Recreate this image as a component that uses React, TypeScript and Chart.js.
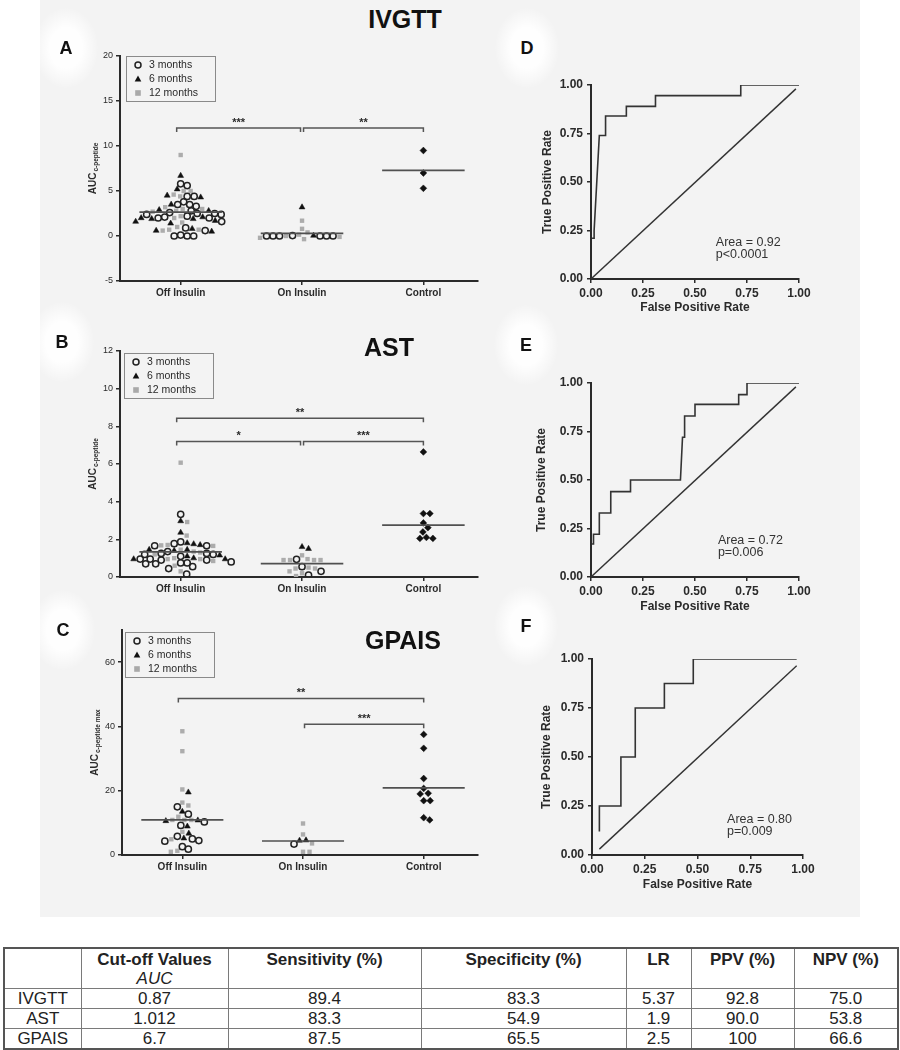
import React, { useEffect, useRef } from 'react';
import { Chart, registerables } from 'chart.js';
Chart.register(...registerables);

const FONT = "'Liberation Sans', Arial, Helvetica, sans-serif";
const NARROW = "'Liberation Sans Narrow', 'Arial Narrow', 'Liberation Sans', Arial, sans-serif";
const INK = '#2a2a2a';

// ---------- categories & series ----------
const categories = ['Off Insulin', 'On Insulin', 'Control'];
const seriesLabels = ['3 months', '6 months', '12 months'];

// ---------- Panel A: IVGTT ----------
const ivgttOff3 = [5.6, 5.8, 4.4, 4.4, 3.5, 3.3, 3.5, 3.8, 2.5, 2.4, 2.4, 2.5, 2.6, 2.8, 2.2, 2.0, 2.1, 2.0, 1.6, 0.9, 0.6, 0.0, 0.0, 0.0, 0.1];
const ivgttOff6 = [6.7, 5.2, 4.3, 4.5, 3.5, 2.9, 2.8, 1.9, 2.1, 1.9, 2.0, 1.7, 1.6, 1.4, 0.5, 0.8, 0.6];
const ivgttOff12 = [9.0, 5.0, 5.0, 4.6, 4.4, 3.2, 2.7, 2.8, 3.0, 3.0, 2.0, 2.2, 1.5, 1.0, 0.7, 0.7, 0.6];
const ivgttOn3 = [0, 0, 0, 0, 0, 0, 0.05];
const ivgttOn6 = [3.2, 0.05];
const ivgttOn12 = [1.7, 0.8, 0.4, 0.15, 0.0, -0.2, -0.1, -0.35];
const ivgttControl = [9.5, 7.0, 5.3];
const ivgttMedians = [2.65, 0.3, 7.3];
const ivgttTicks = { min: -5, max: 20, step: 5 };
const ivgttBrackets = [
  { from: 0, to: 1, level: 12, label: '***' },
  { from: 1, to: 2, level: 12, label: '**' },
];

// ---------- Panel B: AST ----------
const astOff3 = [3.33, 1.86, 1.77, 1.66, 1.66, 1.25, 1.2, 1.1, 1.2, 1.25, 0.95, 0.9, 0.9, 0.95, 0.75, 0.7, 0.7, 0.8, 0.75, 0.55, 0.45, 0.15, 1.35];
const astOff6 = [2.97, 2.36, 1.75, 1.8, 1.7, 1.45, 1.45, 1.15, 1.0, 0.95, 0.95, 1.4, 1.1];
const astOff12 = [6.07, 2.92, 2.2, 1.7, 1.68, 1.65, 1.2, 1.0, 0.95, 0.95, 1.35, 1.3, 0.6, 0.3, 0.85, 1.45];
const astOn3 = [0.94, 0.55, 0.3, 0.1];
const astOn6 = [1.6, 1.5];
const astOn12 = [1.15, 0.9, 0.9, 0.9, 0.9, 0.95, 0.45, 0.45, 0.5, 0.3, 0.2, 0.05];
const astControl = [6.64, 3.37, 3.37, 2.87, 2.62, 2.39, 2.05, 2.05, 2.1];
const astMedians = [1.33, 0.71, 2.75];
const astTicks = { min: 0, max: 12, step: 2 };
const astBrackets = [
  { from: 0, to: 2, level: 8.43, label: '**' },
  { from: 0, to: 1, level: 7.2, label: '*' },
  { from: 1, to: 2, level: 7.2, label: '***' },
];

// ---------- Panel C: GPAIS ----------
const gpaisOff3 = [15.0, 12.7, 10.3, 9.2, 5.8, 5.0, 4.5, 4.3, 2.6, 1.8];
const gpaisOff6 = [19.5, 13.5, 10.6, 8.9, 6.7, 5.2, 10.8];
const gpaisOff12 = [38.5, 32.3, 20.4, 16.3, 15.4, 11.9, 10.9, 10.9, 10.9, 7.2, 4.9, 1.3, 1.0];
const gpaisOn3 = [3.4];
const gpaisOn6 = [4.6, 4.5];
const gpaisOn12 = [9.8, 6.4, 3.6, 1.0, 1.0];
const gpaisControl = [37.5, 33.2, 23.8, 20.7, 19.2, 19.0, 16.9, 16.9, 10.9, 11.6];
const gpaisMedians = [10.9, 4.35, 20.9];
const gpaisTicks = { min: 0, max: 70, step: 20 };
const gpaisBrackets = [
  { from: 0, to: 2, level: 48.7, label: '**' },
  { from: 1, to: 2, level: 40.7, label: '***' },
];

// ---------- ROC curves ----------
const rocTicks = [0, 0.25, 0.5, 0.75, 1];
const rocD_fpr = [0.005, 0.015, 0.015, 0.04, 0.07, 0.07, 0.17, 0.17, 0.31, 0.31, 0.72, 0.72, 1.0];
const rocD_tpr = [0.21, 0.21, 0.25, 0.74, 0.74, 0.84, 0.84, 0.89, 0.89, 0.945, 0.945, 1.0, 1.0];
const rocD_diagFpr = [0, 0.985];
const rocD_diagTpr = [0, 0.98];
const rocD_text = ['Area = 0.92', 'p<0.0001'];

const rocE_fpr = [0.005, 0.012, 0.012, 0.04, 0.04, 0.095, 0.095, 0.19, 0.19, 0.43, 0.44, 0.45, 0.45, 0.5, 0.5, 0.71, 0.71, 0.75, 0.75, 1.0];
const rocE_tpr = [0.17, 0.17, 0.22, 0.22, 0.33, 0.33, 0.44, 0.44, 0.5, 0.5, 0.72, 0.72, 0.83, 0.83, 0.89, 0.89, 0.94, 0.94, 1.0, 1.0];
const rocE_diagFpr = [0, 0.985];
const rocE_diagTpr = [0, 0.98];
const rocE_text = ['Area = 0.72', 'p=0.006'];

const rocF_fpr = [0.035, 0.035, 0.137, 0.137, 0.205, 0.205, 0.343, 0.343, 0.48, 0.48, 0.97];
const rocF_tpr = [0.12, 0.25, 0.25, 0.5, 0.5, 0.75, 0.75, 0.875, 0.875, 1.0, 1.0];
const rocF_diagFpr = [0.035, 0.97];
const rocF_diagTpr = [0.03, 0.965];
const rocF_text = ['Area = 0.80', 'p=0.009'];

// ---------- Table ----------
const tableHeaders = ['', 'Cut-off Values', 'Sensitivity (%)', 'Specificity (%)', 'LR', 'PPV (%)', 'NPV (%)'];
const tableSubHeader = 'AUC';
const tableRowLabels = ['IVGTT', 'AST', 'GPAIS'];
const cutoffValues = ['0.87', '1.012', '6.7'];
const sensitivity = ['89.4', '83.3', '87.5'];
const specificity = ['83.3', '54.9', '65.5'];
const likelihoodRatio = ['5.37', '1.9', '2.5'];
const ppv = ['92.8', '90.0', '100'];
const npv = ['75.0', '53.8', '66.6'];

// ---------- plugins ----------
const yLabelPlugin = {
  id: 'ylab',
  afterDraw(chart: any, _a: any, opts: any) {
    if (!opts || !opts.main) return;
    const { ctx, chartArea } = chart;
    ctx.save();
    ctx.translate(chartArea.left + opts.dx, (chartArea.top + chartArea.bottom) / 2);
    ctx.rotate(-Math.PI / 2);
    ctx.fillStyle = INK;
    ctx.textBaseline = 'middle';
    ctx.textAlign = 'left';
    const mainFont = `bold ${opts.size}px ${FONT}`;
    const subFont = `bold ${opts.subSize}px ${FONT}`;
    ctx.font = mainFont;
    const w1 = ctx.measureText(opts.main).width;
    ctx.font = subFont;
    const w2 = ctx.measureText(opts.sub).width;
    const start = -(w1 + w2 + 1) / 2;
    ctx.font = mainFont;
    ctx.fillText(opts.main, start, 0);
    ctx.font = subFont;
    ctx.fillText(opts.sub, start + w1 + 1, 3);
    ctx.restore();
  },
};

const boxLegendPlugin = {
  id: 'boxlegend',
  afterDraw(chart: any, _a: any, opts: any) {
    if (!opts || !opts.items) return;
    const { ctx, chartArea } = chart;
    const x0 = chartArea.left + opts.dx;
    const y0 = chartArea.top + opts.dy;
    const w = 89, h = 45;
    ctx.save();
    ctx.strokeStyle = '#8a8a8a';
    ctx.lineWidth = 1;
    ctx.strokeRect(x0 + 0.5, y0 + 0.5, w, h);
    ctx.font = `10.5px ${FONT}`;
    ctx.textBaseline = 'middle';
    ctx.fillStyle = INK;
    opts.items.forEach((it: any, i: number) => {
      const cy = y0 + 9 + i * 14;
      const cx = x0 + 12;
      if (it.shape === 'circle') {
        ctx.beginPath();
        ctx.arc(cx, cy, 3, 0, Math.PI * 2);
        ctx.lineWidth = 1.5;
        ctx.strokeStyle = '#222';
        ctx.stroke();
      } else if (it.shape === 'triangle') {
        ctx.beginPath();
        ctx.moveTo(cx, cy - 3.5);
        ctx.lineTo(cx - 3.3, cy + 2.5);
        ctx.lineTo(cx + 3.3, cy + 2.5);
        ctx.closePath();
        ctx.fillStyle = '#111';
        ctx.fill();
      } else {
        ctx.fillStyle = '#a9a9a9';
        ctx.fillRect(cx - 2.8, cy - 2.8, 5.6, 5.6);
      }
      ctx.fillStyle = INK;
      ctx.fillText(it.label, x0 + 23, cy + 0.5);
    });
    ctx.restore();
  },
};

const bracketPlugin = {
  id: 'brackets',
  afterDatasetsDraw(chart: any, _a: any, opts: any) {
    if (!opts || !opts.list) return;
    const { ctx, scales } = chart;
    const xs = scales.x, ys = scales.y;
    ctx.save();
    ctx.strokeStyle = '#555';
    ctx.lineWidth = 1.5;
    ctx.fillStyle = INK;
    ctx.font = `bold 11px ${FONT}`;
    ctx.textAlign = 'center';
    ctx.textBaseline = 'alphabetic';
    opts.list.forEach((b: any) => {
      let x1 = xs.getPixelForValue(b.from) - (b.from === 0 ? 4 : 0);
      let x2 = xs.getPixelForValue(b.to);
      if (b.from === 1) x1 += 1.5;
      if (b.to === 1) x2 -= 1.5;
      const y = ys.getPixelForValue(b.level);
      ctx.beginPath();
      ctx.moveTo(x1, y + 4);
      ctx.lineTo(x1, y);
      ctx.lineTo(x2, y);
      ctx.lineTo(x2, y + 4);
      ctx.stroke();
      ctx.fillText(b.label, (x1 + x2) / 2, y - 2.5);
    });
    ctx.restore();
  },
};

const rocTextPlugin = {
  id: 'roctext',
  afterDraw(chart: any, _a: any, opts: any) {
    if (!opts || !opts.lines) return;
    const { ctx, scales } = chart;
    const x = scales.x.getPixelForValue(opts.at[0]);
    const y = scales.y.getPixelForValue(opts.at[1]);
    ctx.save();
    ctx.fillStyle = '#333';
    ctx.font = `12.5px ${FONT}`;
    ctx.textAlign = 'left';
    ctx.textBaseline = 'middle';
    opts.lines.forEach((t: string, i: number) => ctx.fillText(t, x, y + i * 12));
    ctx.restore();
  },
};

// ---------- builders ----------
const axisGrid = { display: true, drawOnChartArea: false, drawTicks: true, tickLength: 4, color: INK, lineWidth: 1.5 };
const axisBorder = { display: true, color: INK, width: 2 };

function pts(values: number[], cat: number) {
  return values.map((v) => ({ x: cat, y: v, cat }));
}

function scatterConfig(p: any) {
  const datasets: any[] = [
    {
      label: seriesLabels[2], swarm: true, order: 3,
      data: [...pts(p.off12, 0), ...pts(p.on12, 1)],
      pointStyle: 'rect', pointRadius: 3.1, borderWidth: 0,
      backgroundColor: '#acacac', borderColor: '#acacac',
    },
    {
      label: seriesLabels[0], swarm: true, order: 2,
      data: [...pts(p.off3, 0), ...pts(p.on3, 1)],
      pointStyle: 'circle', pointRadius: 3.1, borderWidth: 1.5,
      backgroundColor: 'rgba(0,0,0,0)', borderColor: '#222',
    },
    {
      label: seriesLabels[1], swarm: true, order: 2,
      data: [...pts(p.off6, 0), ...pts(p.on6, 1)],
      pointStyle: 'triangle', pointRadius: 3.4, borderWidth: 0.5,
      backgroundColor: '#111', borderColor: '#111',
    },
    {
      label: categories[2], swarm: true, order: 2,
      data: pts(p.control, 2),
      pointStyle: 'rectRot', pointRadius: 3.4, borderWidth: 0.5,
      backgroundColor: '#111', borderColor: '#111',
    },
  ];
  p.medians.forEach((m: number, i: number) => {
    datasets.push({
      type: 'line', label: 'median ' + categories[i], order: 1,
      data: [{ x: i - 0.34, y: m }, { x: i + 0.34, y: m }],
      borderColor: '#505050', borderWidth: 1.7, pointRadius: 0, fill: false,
    });
  });
  return {
    type: 'scatter',
    data: { datasets },
    options: {
      animation: false, responsive: false, maintainAspectRatio: false,
      layout: { padding: p.padding },
      events: [],
      plugins: {
        legend: { display: false }, tooltip: { enabled: false },
        ylab: { main: 'AUC', sub: p.ySub, size: 10, subSize: 6.5, dx: -27 },
        boxlegend: {
          dx: p.legendDx, dy: p.legendDy,
          items: [
            { label: seriesLabels[0], shape: 'circle' },
            { label: seriesLabels[1], shape: 'triangle' },
            { label: seriesLabels[2], shape: 'square' },
          ],
        },
        brackets: { list: p.brackets },
      },
      scales: {
        x: {
          type: 'linear', min: -0.5, max: 2.45,
          afterBuildTicks: (s: any) => { s.ticks = [0, 1, 2].map((v) => ({ value: v })); },
          afterFit: (s: any) => { s.height = p.xH; },
          grid: axisGrid, border: axisBorder,
          ticks: {
            callback: (v: any) => categories[Math.round(v)],
            font: { family: FONT, size: 10, weight: 'bold' }, color: INK,
            padding: 2, autoSkip: false, maxRotation: 0,
          },
        },
        y: {
          type: 'linear', min: p.ticks.min, max: p.ticks.max,
          afterBuildTicks: (s: any) => {
            const t: any[] = [];
            for (let v = p.ticks.min; v <= p.ticks.max + 1e-9; v += p.ticks.step) t.push({ value: v });
            s.ticks = t;
          },
          afterFit: (s: any) => { s.width = p.yW; },
          grid: axisGrid, border: axisBorder,
          ticks: { font: { family: FONT, size: 9 }, color: INK, padding: 3 },
        },
      },
    },
    plugins: [yLabelPlugin, boxLegendPlugin, bracketPlugin],
  };
}

function rocConfig(p: any) {
  const curve = p.fpr.map((f: number, i: number) => ({ x: f, y: p.tpr[i] }));
  const diag = p.dFpr.map((f: number, i: number) => ({ x: f, y: p.dTpr[i] }));
  const tickFont = { family: FONT, size: 12, weight: 'bold' };
  const titleFont = { family: FONT, size: 12, weight: 'bold' };
  return {
    type: 'scatter',
    data: {
      datasets: [
        { label: 'ROC', data: curve, showLine: true, borderColor: '#333', borderWidth: 1.6, pointRadius: 0, fill: false },
        { label: 'Reference', data: diag, showLine: true, borderColor: '#333', borderWidth: 1.4, pointRadius: 0, fill: false },
      ],
    },
    options: {
      animation: false, responsive: false, maintainAspectRatio: false,
      layout: { padding: p.padding },
      events: [],
      plugins: {
        legend: { display: false }, tooltip: { enabled: false },
        roctext: { lines: p.text, at: p.textAt },
      },
      scales: {
        x: {
          type: 'linear', min: 0, max: 1,
          afterBuildTicks: (s: any) => { s.ticks = rocTicks.map((v) => ({ value: v })); },
          afterFit: (s: any) => { s.height = p.xH; },
          grid: axisGrid, border: axisBorder,
          ticks: { callback: (v: any) => Number(v).toFixed(2), font: tickFont, color: INK, padding: 3, autoSkip: false, maxRotation: 0 },
          title: { display: true, text: 'False Positive Rate', font: titleFont, color: INK },
        },
        y: {
          type: 'linear', min: 0, max: 1,
          afterBuildTicks: (s: any) => { s.ticks = rocTicks.map((v) => ({ value: v })); },
          afterFit: (s: any) => { s.width = p.yW; },
          grid: axisGrid, border: axisBorder,
          ticks: { callback: (v: any) => Number(v).toFixed(2), font: tickFont, color: INK, padding: 4 },
          title: { display: true, text: 'True Positive Rate', font: titleFont, color: INK },
        },
      },
    },
    plugins: [rocTextPlugin],
  };
}

function applySwarm(chart: any, diameter: number) {
  const xs = chart.scales.x, ys = chart.scales.y;
  const groups: Record<number, any[]> = {};
  chart.data.datasets.forEach((ds: any) => {
    if (!ds.swarm) return;
    ds.data.forEach((pt: any) => {
      (groups[pt.cat] = groups[pt.cat] || []).push({ pt, py: ys.getPixelForValue(pt.y) });
    });
  });
  Object.keys(groups).forEach((k) => {
    const cat = Number(k);
    const cx = xs.getPixelForValue(cat);
    const items = groups[cat].sort((a, b) => a.py - b.py);
    const placed: { px: number; py: number }[] = [];
    items.forEach((it) => {
      let off = 0;
      for (let s = 0; s < 600; s++) {
        const o = (s % 2 === 1 ? 1 : -1) * Math.ceil(s / 2) * 0.5;
        const px = cx + o;
        if (placed.every((q) => (q.px - px) ** 2 + (q.py - it.py) ** 2 >= diameter * diameter)) { off = o; break; }
      }
      placed.push({ px: cx + off, py: it.py });
      it.pt.x = xs.getValueForPixel(cx + off);
    });
  });
  chart.update('none');
}

function ChartBox({ left, top, width, height, make, swarm }: any) {
  const ref = useRef<HTMLCanvasElement>(null);
  useEffect(() => {
    const chart = new Chart(ref.current as HTMLCanvasElement, make());
    if (swarm) applySwarm(chart, swarm);
    return () => chart.destroy();
  }, []);
  return (
    <canvas ref={ref} width={width} height={height}
      style={{ position: 'absolute', left, top, width, height }} />
  );
}

const panelA = () => scatterConfig({
  off3: ivgttOff3, off6: ivgttOff6, off12: ivgttOff12, on3: ivgttOn3, on6: ivgttOn6, on12: ivgttOn12,
  control: ivgttControl, medians: ivgttMedians, ticks: ivgttTicks, brackets: ivgttBrackets,
  ySub: 'c-peptide', padding: { left: 0, top: 16, right: 12, bottom: 4 }, yW: 70, xH: 30, legendDx: 6, legendDy: 0,
});
const panelB = () => scatterConfig({
  off3: astOff3, off6: astOff6, off12: astOff12, on3: astOn3, on6: astOn6, on12: astOn12,
  control: astControl, medians: astMedians, ticks: astTicks, brackets: astBrackets,
  ySub: 'c-peptide', padding: { left: 0, top: 21, right: 12, bottom: 0 }, yW: 70, xH: 18, legendDx: 4, legendDy: 2,
});
const panelC = () => scatterConfig({
  off3: gpaisOff3, off6: gpaisOff6, off12: gpaisOff12, on3: gpaisOn3, on6: gpaisOn6, on12: gpaisOn12,
  control: gpaisControl, medians: gpaisMedians, ticks: gpaisTicks, brackets: gpaisBrackets,
  ySub: 'c-peptide max', padding: { left: 0, top: 20, right: 12, bottom: 0 }, yW: 72, xH: 25, legendDx: 3, legendDy: 2,
});
const panelD = () => rocConfig({
  fpr: rocD_fpr, tpr: rocD_tpr, dFpr: rocD_diagFpr, dTpr: rocD_diagTpr, text: rocD_text, textAt: [0.6, 0.19],
  padding: { left: 16, top: 25, right: 21, bottom: 11 }, yW: 55, xH: 40,
});
const panelE = () => rocConfig({
  fpr: rocE_fpr, tpr: rocE_tpr, dFpr: rocE_diagFpr, dTpr: rocE_diagTpr, text: rocE_text, textAt: [0.61, 0.19],
  padding: { left: 10.5, top: 33, right: 21, bottom: 12 }, yW: 60.5, xH: 41,
});
const panelF = () => rocConfig({
  fpr: rocF_fpr, tpr: rocF_tpr, dFpr: rocF_diagFpr, dTpr: rocF_diagTpr, text: rocF_text, textAt: [0.64, 0.18],
  padding: { left: 15.5, top: 29, right: 17, bottom: 14 }, yW: 56.5, xH: 41,
});

const letters = [
  { t: 'A', x: 66, y: 48 }, { t: 'B', x: 62, y: 342 }, { t: 'C', x: 63, y: 630 },
  { t: 'D', x: 527, y: 48 }, { t: 'E', x: 526, y: 345 }, { t: 'F', x: 526, y: 626 },
];
const titles = [
  { t: 'IVGTT', x: 405, y: 19 }, { t: 'AST', x: 389, y: 347 }, { t: 'GPAIS', x: 403, y: 640 },
];

export default function App() {
  const colW = [77, 147, 193, 205, 65, 103, 104];
  const rows = tableRowLabels.map((r, i) => [r, cutoffValues[i], sensitivity[i], specificity[i], likelihoodRatio[i], ppv[i], npv[i]]);
  const cell: React.CSSProperties = { border: '1px solid #7a7a7a', padding: 0, textAlign: 'center' };
  return (
    <div style={{ position: 'absolute', left: 0, top: 0, width: 900, height: 1050, background: '#fff', overflow: 'hidden', fontFamily: FONT }}>
      <div style={{ position: 'absolute', left: 40, top: 0, width: 820, height: 917, background: '#f3f3f3' }} />
      {letters.map((l) => (
        <div key={'b' + l.t} style={{
          position: 'absolute', left: l.x - 32, top: l.y - 40, width: 64, height: 80, borderRadius: '50%',
          background: 'radial-gradient(ellipse at center, rgba(255,255,255,0.95) 35%, rgba(255,255,255,0) 72%)',
        }} />
      ))}
      <ChartBox left={50} top={40} width={440} height={275} make={panelA} swarm={6.4} />
      <ChartBox left={50} top={330} width={440} height={265} make={panelB} swarm={6.4} />
      <ChartBox left={50} top={610} width={440} height={270} make={panelC} swarm={6.4} />
      <ChartBox left={520} top={60} width={300} height={270} make={panelD} />
      <ChartBox left={520} top={350} width={300} height={280} make={panelE} />
      <ChartBox left={520} top={630} width={300} height={280} make={panelF} />
      {letters.map((l) => (
        <div key={l.t} style={{
          position: 'absolute', left: l.x, top: l.y, transform: 'translate(-50%,-50%)',
          fontWeight: 'bold', fontSize: 18, color: '#111', lineHeight: 1,
        }}>{l.t}</div>
      ))}
      {titles.map((t) => (
        <div key={t.t} style={{
          position: 'absolute', left: t.x, top: t.y, transform: 'translate(-50%,-50%)',
          fontWeight: 'bold', fontSize: 25, color: '#111', lineHeight: 1, whiteSpace: 'nowrap',
        }}>{t.t}</div>
      ))}
      <table style={{
        position: 'absolute', left: 3, top: 947, width: 894, borderCollapse: 'collapse', tableLayout: 'fixed',
        fontFamily: NARROW, fontSize: 17, color: '#222', border: '2px solid #555',
      }}>
        <colgroup>{colW.map((w, i) => <col key={i} style={{ width: w }} />)}</colgroup>
        <tbody>
          <tr style={{ height: 40 }}>
            {tableHeaders.map((h, i) => (
              <td key={i} style={{ ...cell, verticalAlign: 'top', fontWeight: 'bold', lineHeight: '19px', paddingTop: 1 }}>
                {h}
                {i === 1 && <div style={{ fontStyle: 'italic', fontWeight: 'normal' }}>{tableSubHeader}</div>}
              </td>
            ))}
          </tr>
          {rows.map((r, ri) => (
            <tr key={ri} style={{ height: 20 }}>
              {r.map((v, ci) => (
                <td key={ci} style={{ ...cell, lineHeight: '19px' }}>{v}</td>
              ))}
            </tr>
          ))}
        </tbody>
      </table>
    </div>
  );
}
